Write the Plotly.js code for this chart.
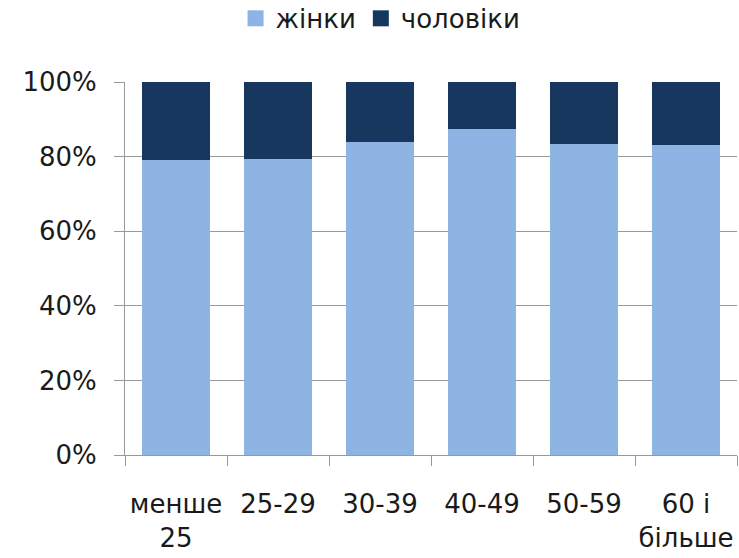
<!DOCTYPE html>
<html>
<head>
<meta charset="utf-8">
<script src="https://cdn.plot.ly/plotly-3.0.1.min.js"></script>
<style>html,body{margin:0;padding:0;background:#fff;}#chart{width:739px;height:558px;}</style>
</head>
<body>
<div id="chart"></div>
<script>
const categories = ["менше<br>25", "25-29", "30-39", "40-49", "50-59", "60 і<br>більше"];
const women = [79.0, 79.3, 83.9, 87.5, 83.3, 83.0];
const men = women.map(v => +(100 - v).toFixed(1));
const seriesNames = ["жінки", "чоловіки"];
const seriesColors = ["#8EB4E3", "#17375E"];
const tickVals = [0, 20, 40, 60, 80, 100];
const tickText = ["0%", "20%", "40%", "60%", "80%", "100%"];

const font = "DejaVu Sans, sans-serif";
const data = [
  {type: "bar", name: seriesNames[0], x: categories, y: women, marker: {color: seriesColors[0]}, hoverinfo: "skip", showlegend: false},
  {type: "bar", name: seriesNames[1], x: categories, y: men, marker: {color: seriesColors[1]}, hoverinfo: "skip", showlegend: false},
  {type: "scatter", mode: "markers", name: seriesNames[0], x: [null], y: [null], marker: {color: seriesColors[0], symbol: "square", size: 16}},
  {type: "scatter", mode: "markers", name: seriesNames[1], x: [null], y: [null], marker: {color: seriesColors[1], symbol: "square", size: 16}}
];
const layout = {
  width: 739, height: 558,
  margin: {l: 125, r: 2, t: 82, b: 103, autoexpand: false},
  barmode: "stack",
  bargap: 0.34,
  paper_bgcolor: "#fff", plot_bgcolor: "#fff",
  font: {family: font, size: 24, color: "#1a1a1a"},
  showlegend: true,
  legend: {orientation: "h", xref: "container", yref: "container", x: 0.515, xanchor: "center", y: 0.967, yanchor: "middle",
           font: {family: font, size: 26, color: "#1a1a1a"}, traceorder: "normal", itemwidth: 30},
  xaxis: {type: "category", showline: true, linecolor: "#999", linewidth: 1, tickangle: 0,
          ticks: "outside", tickson: "boundaries", ticklen: 10, tickcolor: "#999", ticklabelstandoff: 26,
          tickfont: {family: font, size: 26, color: "#1a1a1a"}, showgrid: false, fixedrange: true},
  yaxis: {range: [0, 100], tickvals: tickVals, ticktext: tickText, showline: true, linecolor: "#999",
          ticks: "outside", ticklen: 10, tickcolor: "#999", showgrid: true, gridcolor: "#999", ticklabelstandoff: 12,
          tickfont: {family: font, size: 26, color: "#1a1a1a"}, zeroline: false, fixedrange: true}
};
Plotly.newPlot("chart", data, layout, {displayModeBar: false, staticPlot: true});
</script>
</body>
</html>
